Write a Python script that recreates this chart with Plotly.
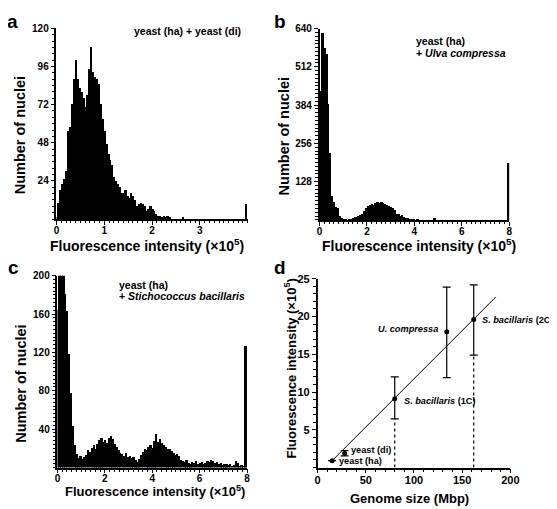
import plotly.graph_objects as go

FONT = "Arial, Liberation Sans, sans-serif"
W, H = 557, 509
OFF = 8  # page body margin of the browser

# --- histogram data (counts per bin) ---
a_bin_start, a_bin_width = 0.0, 0.04
a_counts = [1, 10, 18, 22, 25, 30, 55, 58, 72, 88,
            100, 88, 82, 80, 76, 70, 78, 94, 108, 92,
            89, 88, 85, 72, 63, 55, 47, 41, 37, 34,
            26, 24, 22, 20, 16, 16, 18, 14, 13, 16,
            14, 12, 8, 9, 10, 9, 8, 5, 6, 8,
            6, 5, 3, 2, 2, 1, 2, 1, 2, 1,
            0, 0, 0, 0, 0, 0, 1, 0, 0, 0,
            0, 0, 0, 0, 0, 0, 0, 0, 0, 0,
            0, 0, 0, 0, 0, 0, 0, 0, 0, 0,
            0, 0, 0, 0, 0, 0, 0, 0, 0, 9]

b_bin_start, b_bin_width = 0.0, 0.08
b_counts = [434, 627, 577, 555, 390, 225, 82, 60, 45, 40,
            16, 8, 4, 2, 1, 2, 5, 8, 10, 12,
            16, 18, 22, 30, 40, 48, 52, 54, 50, 57,
            60, 58, 61, 57, 55, 50, 48, 44, 42, 36,
            22, 20, 15, 17, 10, 8, 9, 5, 4, 2,
            1, 2, 1, 0, 1, 0, 0, 0, 0, 0,
            8, 0, 0, 0, 0, 0, 0, 0, 0, 0,
            0, 0, 0, 0, 0, 0, 0, 0, 0, 0,
            0, 0, 0, 0, 0, 0, 0, 0, 0, 0,
            0, 0, 0, 0, 0, 0, 0, 0, 0, 192]

c_bin_start, c_bin_width = 0.0, 0.08
c_counts = [165, 250, 280, 240, 181, 164, 119, 78, 43, 24,
            14, 10, 12, 9, 11, 13, 18, 16, 21, 24,
            20, 25, 29, 31, 27, 29, 26, 31, 33, 30,
            25, 22, 18, 15, 14, 12, 15, 11, 12, 10,
            11, 8, 6, 9, 13, 16, 20, 18, 22, 24,
            21, 28, 35, 27, 30, 26, 24, 22, 19, 20,
            17, 15, 13, 14, 12, 8, 7, 6, 8, 5,
            4, 6, 5, 7, 4, 5, 6, 4, 5, 7,
            6, 8, 7, 5, 6, 4, 5, 3, 4, 4,
            3, 4, 2, 3, 7, 5, 2, 3, 1, 127]

# --- panel d data ---
genome_mbp = [15, 28, 80, 134, 162]
intensity = [0.9, 1.9, 9.1, 18.0, 19.6]
err_plus = [0, 0.35, 2.9, 5.9, 4.6]
err_minus = [0, 0.35, 2.65, 6.1, 4.7]
d_labels = ["yeast (ha)", "yeast (di)", "<i>S. bacillaris</i> (1C)", "<i>U. compressa</i>",
            "<i>S. bacillaris</i> (2C)"]
fit_x = [15, 185]
fit_y = [0.9, 22.6]

FW, FH = W - OFF, H - OFF


def px_x(p):
    return (p - OFF) / FW


def px_y(p):
    return (H - p) / FH


def centers(start, width, n):
    return [start + width * (i + 0.5) for i in range(n)]


fig = go.Figure()

for counts, start, width, ax in [(a_counts, a_bin_start, a_bin_width, ""),
                                 (b_counts, b_bin_start, b_bin_width, "2"),
                                 (c_counts, c_bin_start, c_bin_width, "3")]:
    fig.add_trace(go.Bar(x=centers(start, width, len(counts)), y=counts, width=width,
                         marker=dict(color="black", line=dict(width=0)),
                         xaxis="x" + ax, yaxis="y" + ax, showlegend=False))

# panel d: dotted drop lines, fit line, points with error bars
for i in (2, 4):
    fig.add_trace(go.Scatter(x=[genome_mbp[i], genome_mbp[i]], y=[0, intensity[i] - err_minus[i]],
                             mode="lines", line=dict(color="black", width=1.2, dash="dot"),
                             xaxis="x4", yaxis="y4", showlegend=False))
fig.add_trace(go.Scatter(x=fit_x, y=fit_y, mode="lines", line=dict(color="black", width=1),
                         xaxis="x4", yaxis="y4", showlegend=False))
fig.add_trace(go.Scatter(x=genome_mbp, y=intensity, mode="markers",
                         marker=dict(color="black", size=5),
                         error_y=dict(type="data", array=err_plus, arrayminus=err_minus,
                                      color="black", thickness=1.2, width=4),
                         xaxis="x4", yaxis="y4", showlegend=False))

tickfont = dict(size=10, family=FONT, color="black", weight="bold")


def ax_style(domain, rng, tickvals, minor_dtick, font=tickfont, standoff=0):
    return dict(domain=domain, range=rng, tickmode="array", tickvals=tickvals,
                showline=True, linecolor="black", linewidth=1.5, ticks="outside",
                ticklen=4, tickwidth=1.2, tickcolor="black", showgrid=False, zeroline=False,
                tickfont=font, fixedrange=True, ticklabelstandoff=standoff,
                minor=dict(tickmode="linear", tick0=0, dtick=minor_dtick, ticks="outside",
                           ticklen=2.5, tickwidth=1, tickcolor="black", showgrid=False))


fig.update_layout(
    width=FW, height=FH, margin=dict(l=0, r=0, t=0, b=0),
    paper_bgcolor="white", plot_bgcolor="white", bargap=0,
    xaxis=ax_style([px_x(54.5), px_x(250)], [0, 4], [0, 1, 2, 3], 0.1, standoff=-3),
    yaxis=ax_style([px_y(215.5), px_y(22.5)], [0, 120], [24, 48, 72, 96, 120], 4),
    xaxis2=ax_style([px_x(323.5), px_x(517.3)], [0, 8], [0, 2, 4, 6, 8], 0.2, standoff=-3),
    yaxis2=ax_style([px_y(216.4), px_y(22.7)], [0, 640], [128, 256, 384, 512, 640], 12.8),
    xaxis3=ax_style([px_x(55.5), px_x(249.3)], [0, 8], [0, 2, 4, 6, 8], 0.2, standoff=-3),
    yaxis3=ax_style([px_y(467), px_y(273)], [0, 200], [40, 80, 120, 160, 200], 4),
    xaxis4=ax_style([px_x(321.5), px_x(518.5)], [0, 200], [0, 50, 100, 150, 200], 10,
                    dict(tickfont, size=11), standoff=-2),
    yaxis4=ax_style([px_y(467), px_y(276)], [0, 25], [5, 10, 15, 20, 25], 1,
                    dict(tickfont, size=11)),
)
fig.update_layout(xaxis2_anchor="y2", yaxis2_anchor="x2", xaxis3_anchor="y3",
                  yaxis3_anchor="x3", xaxis4_anchor="y4", yaxis4_anchor="x4")

ann = []


def text(x, y, s, size=14, angle=0, xanchor="center"):
    ann.append(dict(x=px_x(x), y=px_y(y), xref="paper", yref="paper", text=s,
                    showarrow=False, textangle=angle, xanchor=xanchor, yanchor="middle",
                    font=dict(size=size, family=FONT, color="black", weight="bold")))


fl = "Fluorescence intensity (×10<sup>5</sup>)"
# panel letters
text(10, 16, "a", 19)
text(283, 16, "b", 19)
text(11, 265, "c", 19)
text(283, 265, "d", 19)
# axis titles
text(17, 131, "Number of nuclei", 14.5, -90)
text(147, 242, fl, 14)
text(287, 132, "Number of nuclei", 14.5, -90)
text(425, 242, fl, 14)
text(17.5, 382, "Number of nuclei", 14.5, -90)
text(155, 490.5, fl, 13)
text(293, 367, fl, 13, -90)
text(415.5, 498, "Genome size (Mbp)", 13)
# panel legends
text(245, 25, "yeast (ha) + yeast (di)", 10.5, xanchor="right")
text(420.5, 35, "yeast (ha)", 10.5, xanchor="left")
text(420.5, 47, "+ <i>Ulva compressa</i>", 10.5, xanchor="left")
text(116.5, 282, "yeast (ha)", 10.5, xanchor="left")
text(116.5, 293.5, "+ <i>Stichococcus bacillaris</i>", 10.5, xanchor="left")

# panel d point labels
d_shift = [(5, 0, "left"), (4, 3, "left"), (7, -2, "left"), (-7, 3, "right"), (6, 0, "left")]
for i, lab in enumerate(d_labels):
    dx, dy, xa = d_shift[i]
    ann.append(dict(x=genome_mbp[i], y=intensity[i], xref="x4", yref="y4", text=lab,
                    showarrow=False, xanchor=xa, yanchor="middle", xshift=dx, yshift=dy,
                    font=dict(size=9.2, family=FONT, color="black", weight="bold")))

fig.update_layout(annotations=ann)

fig.write_html("out.html")
